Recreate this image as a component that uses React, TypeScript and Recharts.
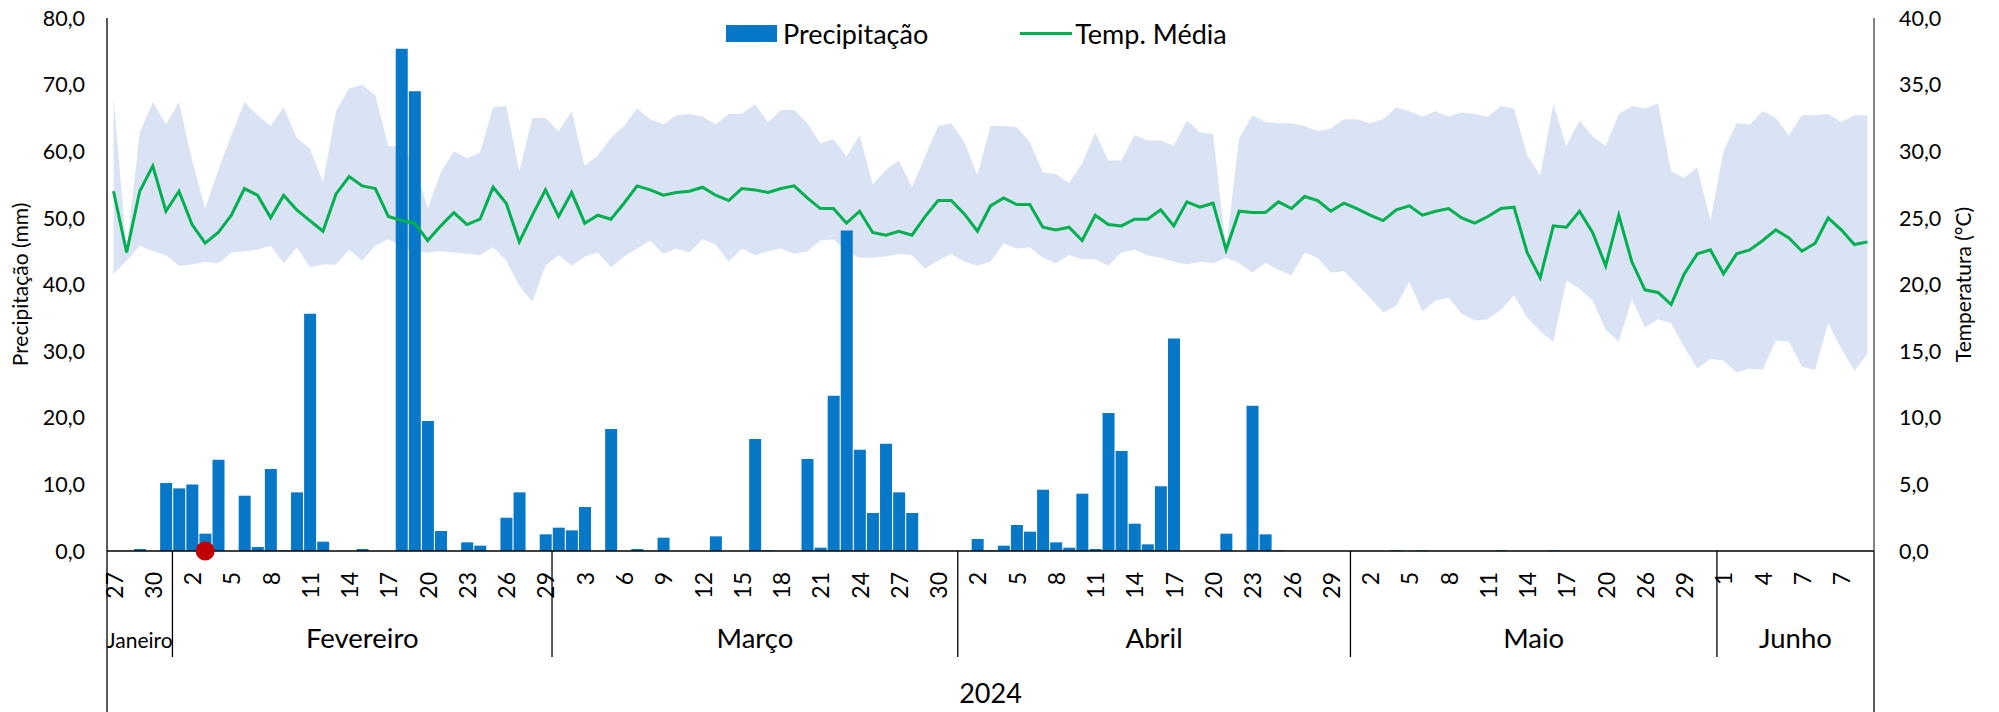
import React from "react";
import { Area, Bar, ComposedChart, Line, XAxis, YAxis } from "recharts";

const FONT = "Lato, 'Open Sans', sans-serif";
const W = 1999;
const H = 712;
const LEFT_W = 107;
const RIGHT_W = 125;
const TOP = 18;
const DAY_AXIS_H = 52;
const MONTH_AXIS_H = 109;
const PLOT_BOTTOM = H - DAY_AXIS_H - MONTH_AXIS_H;
const PLOT_W = W - LEFT_W - RIGHT_W;

const BAR_COLOR = "#0778C8";
const LINE_COLOR = "#00B050";
const BAND_COLOR = "#DAE3F3";
const MARK_COLOR = "#C00000";

const seq = (a: number, b: number) => {
  const out: string[] = [];
  for (let d = a; d <= b; d++) out.push(String(d));
  return out;
};

const months = ["Janeiro", "Fevereiro", "Março", "Abril", "Maio", "Junho"];
const monthDays = [
  ["27", "28", "29", "30", "31"],
  seq(1, 29),
  seq(1, 31),
  seq(1, 30),
  [...seq(1, 22), ...seq(26, 31)],
  ["1", "2", "3", "4", "5", "6", "7", "8", "9", "7", "8", "9"],
];
const year = "2024";

const precip = [
  0, 0, 0.3, 0, 10.2, 9.4, 10.0, 2.6, 13.7, 0, 8.3, 0.6, 12.3, 0.1, 8.8, 35.6, 1.4, 0, 0, 0.3, 0, 0, 75.4, 69.0,
  19.5, 3.0, 0, 1.3, 0.8, 0, 5.0, 8.8, 0, 2.5,
  3.5, 3.1, 6.6, 0, 18.3, 0, 0.3, 0, 2.0, 0, 0, 0, 2.2, 0, 0, 16.8, 0.1, 0, 0, 13.8, 0.5, 23.3, 48.1, 15.2, 5.7,
  16.1, 8.8, 5.7, 0, 0, 0,
  0, 1.8, 0.1, 0.8, 3.9, 2.9, 9.2, 1.3, 0.5, 8.6, 0.3, 20.7, 15.0, 4.1, 1.0, 9.7, 31.9, 0, 0, 0, 2.6, 0, 21.8, 2.5,
  0.1, 0, 0, 0, 0, 0,
  0, 0, 0, 0.1, 0, 0.1, 0, 0, 0, 0, 0, 0.1, 0, 0, 0, 0.1, 0, 0, 0, 0, 0, 0, 0, 0, 0, 0, 0, 0,
  0, 0, 0, 0, 0, 0, 0, 0, 0, 0, 0, 0,
];

const tempMed = [
  27.0, 22.4, 27.0, 28.9, 25.5, 27.0, 24.5, 23.1, 23.9, 25.2, 27.2, 26.7, 25.0, 26.7, 25.6, 24.8, 24.0, 26.8, 28.1,
  27.4, 27.2, 25.1, 24.8, 24.6, 23.3, 24.4, 25.4, 24.5, 24.9, 27.3, 26.1, 23.2, 25.2, 27.1,
  25.1, 26.9, 24.6, 25.2, 24.9, 26.1, 27.4, 27.1, 26.7, 26.9, 27.0, 27.3, 26.7, 26.3, 27.2, 27.1, 26.9, 27.2, 27.4,
  26.5, 25.7, 25.7, 24.6, 25.5, 23.9, 23.7, 24.0, 23.7, 25.1, 26.3, 26.3,
  25.3, 24.0, 25.9, 26.5, 26.0, 26.0, 24.3, 24.1, 24.3, 23.3, 25.2, 24.5, 24.4, 24.9, 24.9, 25.6, 24.4, 26.2, 25.8,
  26.1, 22.6, 25.5, 25.4, 25.4, 26.2, 25.7, 26.6, 26.3, 25.5, 26.1,
  25.7, 25.2, 24.8, 25.6, 25.9, 25.2, 25.5, 25.7, 25.0, 24.6, 25.1, 25.7, 25.8, 22.4, 20.5, 24.4, 24.3, 25.5, 23.9,
  21.4, 25.2, 21.7, 19.6, 19.4, 18.5, 20.8, 22.3, 22.6,
  20.8, 22.3, 22.6, 23.3, 24.1, 23.5, 22.5, 23.1, 25.0, 24.1, 23.0, 23.2,
];

const tempMax = [
  34.0, 22.6, 31.4, 33.7, 32.0, 33.7, 29.3, 25.7, 28.6, 31.2, 33.7, 32.7, 31.9, 33.3, 31.0, 30.2, 27.7, 33.0, 34.7,
  35.0, 34.2, 30.4, 30.4, 29.0, 25.7, 28.4, 30.0, 29.5, 29.9, 33.3, 33.4, 28.5, 32.5, 32.5,
  31.5, 33.0, 28.9, 29.7, 31.0, 31.9, 33.2, 32.4, 32.0, 32.7, 32.8, 32.6, 32.0, 32.8, 32.8, 33.5, 32.2, 33.1, 33.1,
  32.1, 30.6, 30.9, 29.6, 31.2, 27.5, 28.6, 29.3, 27.3, 29.6, 31.9, 32.1,
  30.7, 28.2, 31.9, 31.9, 31.8, 30.7, 28.4, 28.3, 27.6, 29.1, 31.4, 29.3, 29.3, 31.2, 30.8, 30.8, 30.4, 32.3, 31.4,
  31.3, 22.7, 31.0, 32.7, 32.2, 32.1, 32.1, 31.9, 31.5, 31.7, 32.4,
  32.4, 32.1, 32.4, 33.3, 33.0, 32.6, 33.0, 32.6, 32.9, 32.8, 32.6, 33.4, 33.2, 29.7, 28.2, 33.5, 30.4, 32.3, 31.1,
  30.4, 32.8, 33.4, 33.2, 33.6, 28.5, 28.0, 28.8, 24.8,
  30.0, 32.1, 32.0, 33.0, 32.5, 31.2, 32.7, 32.7, 32.8, 32.2, 32.7, 32.7,
];

const tempMin = [
  20.8, 21.8, 22.9, 22.5, 22.2, 21.4, 21.5, 21.7, 21.6, 22.4, 22.5, 22.6, 22.9, 21.6, 22.8, 21.3, 21.5, 21.5, 22.6,
  21.8, 22.9, 23.4, 22.9, 22.5, 22.4, 22.5, 22.4, 22.3, 22.2, 22.8, 21.8, 19.9, 18.7, 21.4,
  22.2, 21.4, 22.1, 22.4, 21.3, 22.1, 22.7, 23.3, 22.3, 22.7, 22.4, 23.4, 23.0, 21.7, 22.7, 22.2, 22.5, 22.7, 22.3,
  22.5, 23.3, 23.4, 22.5, 22.0, 22.0, 22.1, 22.3, 22.2, 21.2, 21.8, 22.3,
  21.7, 21.4, 21.7, 23.1, 22.7, 22.8, 22.0, 21.6, 22.2, 21.9, 21.9, 21.4, 22.4, 22.6, 22.2, 22.0, 21.7, 21.5, 21.7,
  21.6, 22.0, 21.6, 20.9, 21.6, 21.1, 20.7, 22.4, 22.0, 20.9, 21.0,
  20.0, 19.0, 17.9, 18.4, 20.2, 18.0, 18.8, 19.0, 17.8, 17.3, 17.4, 18.1, 19.2, 17.5, 16.5, 15.7, 20.3, 19.7, 18.8,
  16.6, 15.7, 18.9, 16.8, 17.4, 17.1, 15.3, 13.7, 14.4,
  14.3, 13.4, 13.7, 13.6, 15.8, 15.7, 13.8, 13.6, 17.1, 15.2, 13.5, 14.8,
];

// marked day (red dot on the precipitation axis)
const marker = { month: "Fevereiro", day: "3", value: 0 };

const precipTicks = [0, 10, 20, 30, 40, 50, 60, 70, 80];
const tempTicks = [0, 5, 10, 15, 20, 25, 30, 35, 40];

const groups: { name: string; start: number; count: number }[] = [];
const data: any[] = [];
months.forEach((m, mi) => {
  groups.push({ name: m, start: data.length, count: monthDays[mi].length });
  monthDays[mi].forEach((d) => {
    const i = data.length;
    data.push({
      day: d,
      month: m,
      precip: precip[i],
      tMed: tempMed[i],
      tRange: [tempMin[i], tempMax[i]],
      mark: m === marker.month && d === marker.day ? marker.value : null,
    });
  });
});

const fmt = (v: number) => v.toFixed(1).replace(".", ",");

function DayTick(props: any) {
  const { x, y, payload } = props;
  return (
    <text
      x={x}
      y={y}
      transform={`rotate(-90 ${x} ${y})`}
      textAnchor="end"
      dominantBaseline="central"
      fontSize={23}
      fontFamily={FONT}
      fill="#000"
    >
      {payload.value}
    </text>
  );
}

function MonthTick(props: any) {
  const { x, payload } = props;
  const i = payload.index ?? props.index;
  const bw = PLOT_W / data.length;
  const g = groups.find((gr) => gr.start === i);
  const last = i === data.length - 1;
  if (!g && !last) return <g />;
  return (
    <g>
      {g && (
        <>
          <line
            x1={x - bw / 2}
            x2={x - bw / 2}
            y1={PLOT_BOTTOM}
            y2={i === 0 ? H : 657}
            stroke="#000"
            strokeWidth={1.3}
          />
          <text
            x={x - bw / 2 + (g.count * bw) / 2}
            y={648}
            textAnchor="middle"
            fontSize={g.count < 8 ? 21 : 27.5}
            fontFamily={FONT}
            fill="#000"
          >
            {g.name}
          </text>
        </>
      )}
      {i === 0 && (
        <text x={LEFT_W + PLOT_W / 2} y={703} textAnchor="middle" fontSize={27} fontFamily={FONT} fill="#000">
          {year}
        </text>
      )}
      {last && (
        <line x1={x + bw / 2} x2={x + bw / 2} y1={PLOT_BOTTOM} y2={H} stroke="#000" strokeWidth={1.3} />
      )}
    </g>
  );
}

export default function App() {
  return (
    <div style={{ position: "absolute", left: 0, top: 0, width: W, height: H, background: "#fff", fontFamily: FONT }}>
      <ComposedChart
        width={W}
        height={H}
        data={data}
        margin={{ top: TOP, right: 0, bottom: 0, left: 0 }}
        barCategoryGap="6%"
      >
        <XAxis
          xAxisId="day"
          dataKey="day"
          interval={2}
          height={DAY_AXIS_H}
          tick={DayTick}
          tickLine={false}
          tickSize={0}
          tickMargin={21}
          axisLine={{ stroke: "#000", strokeWidth: 1.5 }}
        />
        <XAxis
          xAxisId="month"
          dataKey="month"
          interval={0}
          height={MONTH_AXIS_H}
          tick={MonthTick}
          tickLine={false}
          axisLine={false}
        />
        <YAxis
          yAxisId="p"
          domain={[0, 80]}
          ticks={precipTicks}
          tickFormatter={fmt}
          width={LEFT_W}
          tickLine={false}
          tickSize={0}
          tickMargin={22}
          axisLine={{ stroke: "#000", strokeWidth: 1.3 }}
          tick={{ fontSize: 21.5, fill: "#000", fontFamily: FONT }}
          label={{
            value: "Precipitação (mm)",
            angle: -90,
            position: "center",
            dx: -32.5,
            fontSize: 21,
            fontFamily: FONT,
            fill: "#000",
          }}
        />
        <YAxis
          yAxisId="t"
          orientation="right"
          domain={[0, 40]}
          ticks={tempTicks}
          tickFormatter={fmt}
          width={RIGHT_W}
          tickLine={false}
          tickSize={0}
          tickMargin={25}
          axisLine={{ stroke: "#595959", strokeWidth: 1.5 }}
          tick={{ fontSize: 21.5, fill: "#000", fontFamily: FONT }}
          label={{
            value: "Temperatura (°C)",
            angle: -90,
            position: "center",
            dx: 27.5,
            fontSize: 21,
            fontFamily: FONT,
            fill: "#000",
          }}
        />
        <Area
          xAxisId="day"
          yAxisId="t"
          dataKey="tRange"
          type="linear"
          fill={BAND_COLOR}
          fillOpacity={1}
          stroke="none"
          legendType="none"
          isAnimationActive={false}
        />
        <Bar
          xAxisId="day"
          yAxisId="p"
          dataKey="precip"
          name="Precipitação"
          fill={BAR_COLOR}
          isAnimationActive={false}
        />
        <Line
          xAxisId="day"
          yAxisId="t"
          dataKey="tMed"
          name="Temp. Média"
          type="linear"
          stroke={LINE_COLOR}
          strokeWidth={3}
          dot={false}
          isAnimationActive={false}
        />
        <Line
          xAxisId="day"
          yAxisId="p"
          dataKey="mark"
          stroke="none"
          dot={{ r: 9.5, fill: MARK_COLOR, stroke: "none" }}
          legendType="none"
          isAnimationActive={false}
        />
      </ComposedChart>
      <div
        style={{
          position: "absolute",
          left: 726,
          top: 16,
          height: 34,
          display: "flex",
          alignItems: "center",
          fontSize: 27,
          color: "#000",
          whiteSpace: "nowrap",
        }}
      >
        <span style={{ display: "inline-block", width: 51, height: 17, background: BAR_COLOR }} />
        <span style={{ marginLeft: 6 }}>Precipitação</span>
        <span style={{ display: "inline-block", width: 52, height: 3, background: LINE_COLOR, marginLeft: 92 }} />
        <span style={{ marginLeft: 3 }}>Temp. Média</span>
      </div>
    </div>
  );
}
